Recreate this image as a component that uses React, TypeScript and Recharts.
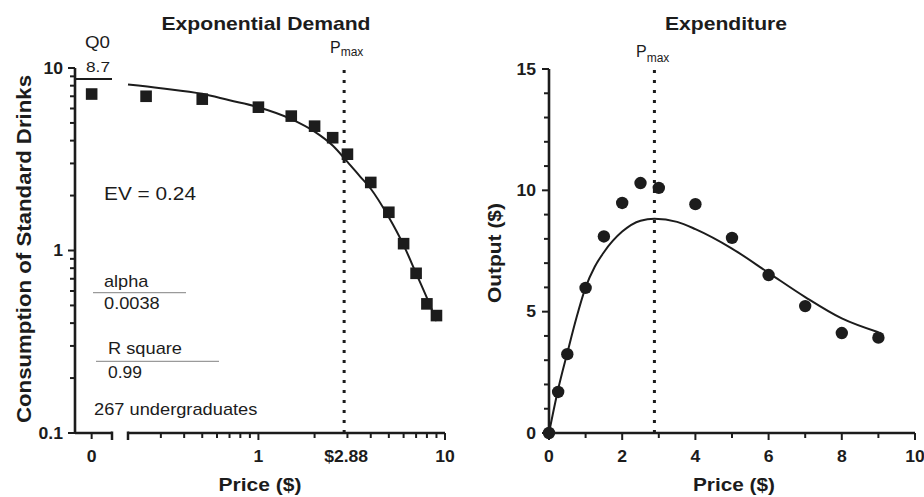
import React from "react";
import { ComposedChart, Line, Scatter, XAxis, YAxis, ReferenceLine } from "recharts";

const INK = "#1c1c1c";
const FONT = "'Liberation Sans', Arial, Helvetica, sans-serif";

// price steps of the purchase task ($) and the mean responses
const PRICES = [0, 0.25, 0.5, 1, 1.5, 2, 2.5, 3, 4, 5, 6, 7, 8, 9];
const CONSUMPTION = [7.2, 7.0, 6.75, 6.1, 5.45, 4.8, 4.15, 3.37, 2.36, 1.62, 1.09, 0.75, 0.51, 0.44];
const EXPENDITURE = [0, 1.69, 3.25, 5.98, 8.1, 9.48, 10.3, 10.1, 9.43, 8.04, 6.51, 5.23, 4.12, 3.93];

// fitted curves
const DEMAND_FIT_P = [0.2, 0.3, 0.5, 0.7, 1, 1.5, 2, 2.5, 3, 3.5, 4, 5, 6, 7, 8, 9];
const DEMAND_FIT_Q = [8.12, 7.75, 7.22, 6.65, 6.1, 5.25, 4.48, 3.76, 3.06, 2.55, 2.18, 1.52, 1.07, 0.75, 0.55, 0.41];
const SPEND_FIT_P = [0, 0.25, 0.5, 0.75, 1, 1.25, 1.5, 2, 2.5, 2.88, 3.5, 4, 5, 6, 7, 8, 9];
const SPEND_FIT_E = [0, 1.8, 3.3, 4.75, 6.0, 6.85, 7.45, 8.3, 8.75, 8.83, 8.7, 8.4, 7.6, 6.6, 5.6, 4.72, 4.15];

const PMAX = 2.88;
const Q0 = 8.7;

const LOG_Y_TICKS = [0.1, 0.2, 0.3, 0.4, 0.5, 0.6, 0.7, 0.8, 0.9, 1, 2, 3, 4, 5, 6, 7, 8, 9, 10];
const LOG_Y_LABELS = [0.1, 1, 10];
const LOG_X_TICKS = [0.2, 0.3, 0.4, 0.5, 0.6, 0.7, 0.8, 0.9, 1, 2, 2.88, 3, 4, 5, 6, 7, 8, 9, 10];
const LOG_X_LABELS: Record<string, string> = { "1": "1", "2.88": "$2.88", "10": "10" };
const ZERO_X_TICKS = [0, 1.1];
const OUT_Y_TICKS = [0, 1, 2, 3, 4, 5, 6, 7, 8, 9, 10, 11, 12, 13, 14, 15];
const OUT_X_TICKS = [0, 1, 2, 3, 4, 5, 6, 7, 8, 9, 10];

const demandPoints = PRICES.map((p, i) => ({ p, q: CONSUMPTION[i] }));
const zeroPoints = demandPoints.filter((d) => d.p === 0);
const logPoints = demandPoints.filter((d) => d.p > 0);
const demandFit = DEMAND_FIT_P.map((p, i) => ({ p, q: DEMAND_FIT_Q[i] }));
const spendPoints = PRICES.map((p, i) => ({ p, e: EXPENDITURE[i] }));
const spendFit = SPEND_FIT_P.map((p, i) => ({ p, e: SPEND_FIT_E[i] }));

const tickText = (x: number, y: number, label: string, anchor: string) => (
  <text
    transform={`translate(${x},${y}) scale(1.1,1)`}
    textAnchor={anchor}
    fontSize={16}
    fontWeight={700}
    fontFamily={FONT}
    fill={INK}
  >
    {label}
  </text>
);

function LogYTick(props: any) {
  const { x, y, payload } = props;
  const major = LOG_Y_LABELS.includes(payload.value);
  return (
    <g>
      <line x1={x - (major ? 7 : 5)} x2={x} y1={y} y2={y} stroke={INK} strokeWidth={2} />
      {major && tickText(x - 12, y + 5.8, String(payload.value), "end")}
    </g>
  );
}

function LogXTick(props: any) {
  const { x, y, payload } = props;
  const v = payload.value;
  const label = LOG_X_LABELS[String(v)];
  if (v === PMAX) return <g>{tickText(x + 2, y + 29, label, "middle")}</g>;
  if (v === 0.2)
    return <line x1={x} x2={x} y1={y - 1.5} y2={y + 7} stroke={INK} strokeWidth={2.5} />;
  return (
    <g>
      <line x1={x} x2={x} y1={y} y2={y + (label ? 7 : 5)} stroke={INK} strokeWidth={2} />
      {label && tickText(x, y + 29, label, "middle")}
    </g>
  );
}

function ZeroXTick(props: any) {
  const { x, y, payload } = props;
  if (payload.value !== 0)
    return <line x1={x} x2={x} y1={y - 1.5} y2={y + 7} stroke={INK} strokeWidth={2.5} />;
  return (
    <g>
      <line x1={x} x2={x} y1={y} y2={y + 6} stroke={INK} strokeWidth={2} />
      {tickText(x, y + 29, "0", "middle")}
    </g>
  );
}

function OutYTick(props: any) {
  const { x, y, payload } = props;
  const major = payload.value % 5 === 0;
  return (
    <g>
      <line x1={x - (major ? 7 : 5)} x2={x} y1={y} y2={y} stroke={INK} strokeWidth={2} />
      {major && tickText(x - 13, y + 5.8, String(payload.value), "end")}
    </g>
  );
}

function OutXTick(props: any) {
  const { x, y, payload } = props;
  const major = payload.value % 2 === 0;
  return (
    <g>
      <line x1={x} x2={x} y1={y} y2={y + (major ? 7 : 5)} stroke={INK} strokeWidth={2} />
      {major && tickText(x, y + 28.5, String(payload.value), "middle")}
    </g>
  );
}

const Square = (props: any) => (
  <rect x={props.cx - 5.8} y={props.cy - 5.8} width={11.6} height={11.6} fill={INK} />
);
const Dot = (props: any) => <circle cx={props.cx} cy={props.cy} r={6.2} fill={INK} />;

const axisLine = { stroke: INK, strokeWidth: 2.6 };

function Txt({ x, y, w, size, bold, anchor = "start", rotate = false, children }: any) {
  return (
    <text
      x={x}
      y={y}
      fontSize={size}
      fontWeight={bold ? 700 : 400}
      fontFamily={FONT}
      textAnchor={anchor}
      textLength={w}
      lengthAdjust="spacingAndGlyphs"
      transform={rotate ? `rotate(-90 ${x} ${y})` : undefined}
      fill={INK}
    >
      {children}
    </text>
  );
}

function Pmax({ x, y, dy }: { x: number; y: number; dy: number }) {
  return (
    <text x={x} y={y} fontSize={16} fontFamily={FONT} fill={INK}>
      P
      <tspan dy={dy} fontSize={12}>
        max
      </tspan>
    </text>
  );
}

export default function App() {
  const pos = (left: number): React.CSSProperties => ({ position: "absolute", left, top: 0 });
  return (
    <div
      style={{
        position: "absolute",
        left: 0,
        top: 0,
        width: 924,
        height: 497,
        background: "#fff",
        fontFamily: FONT,
        overflow: "hidden",
      }}
    >
      {/* zero segment of the broken price axis, carries the log y axis */}
      <div style={pos(0)}>
        <ComposedChart width={120} height={497} margin={{ top: 68, right: 8, bottom: 0, left: 0 }}>
          <XAxis
            type="number"
            dataKey="p"
            domain={[-0.9, 1.1]}
            ticks={ZERO_X_TICKS}
            interval={0}
            height={64}
            tickSize={0}
            tickMargin={0}
            tickLine={false}
            axisLine={axisLine}
            tick={ZeroXTick}
          />
          <YAxis
            type="number"
            scale="log"
            domain={[0.1, 10]}
            ticks={LOG_Y_TICKS}
            interval={0}
            width={75}
            tickSize={0}
            tickMargin={0}
            tickLine={false}
            axisLine={axisLine}
            tick={LogYTick}
          />
          <ReferenceLine y={Q0} stroke={INK} strokeWidth={2} />
          <Scatter data={zeroPoints} dataKey="q" shape={Square} isAnimationActive={false} />
        </ComposedChart>
      </div>

      {/* log price segment */}
      <div style={pos(0)}>
        <ComposedChart width={460} height={497} margin={{ top: 68, right: 15, bottom: 0, left: 128 }}>
          <XAxis
            type="number"
            dataKey="p"
            scale="log"
            domain={[0.2, 10]}
            ticks={LOG_X_TICKS}
            interval={0}
            height={64}
            tickSize={0}
            tickMargin={0}
            tickLine={false}
            axisLine={axisLine}
            tick={LogXTick}
          />
          <YAxis type="number" scale="log" domain={[0.1, 10]} hide />
          <ReferenceLine x={PMAX} stroke={INK} strokeWidth={3} strokeDasharray="3 7" />
          <Line
            data={demandFit}
            dataKey="q"
            type="monotone"
            stroke={INK}
            strokeWidth={2}
            dot={false}
            isAnimationActive={false}
          />
          <Scatter data={logPoints} dataKey="q" shape={Square} isAnimationActive={false} />
        </ComposedChart>
      </div>

      {/* expenditure panel */}
      <div style={pos(460)}>
        <ComposedChart width={464} height={497} margin={{ top: 69, right: 9, bottom: 0, left: 0 }}>
          <XAxis
            type="number"
            dataKey="p"
            domain={[0, 10]}
            ticks={OUT_X_TICKS}
            interval={0}
            height={64}
            tickSize={0}
            tickMargin={0}
            tickLine={false}
            axisLine={axisLine}
            tick={OutXTick}
          />
          <YAxis
            type="number"
            domain={[0, 15]}
            ticks={OUT_Y_TICKS}
            interval={0}
            width={89}
            tickSize={0}
            tickMargin={0}
            tickLine={false}
            axisLine={axisLine}
            tick={OutYTick}
          />
          <ReferenceLine x={PMAX} stroke={INK} strokeWidth={3} strokeDasharray="3 7" />
          <Line
            data={spendFit}
            dataKey="e"
            type="monotone"
            stroke={INK}
            strokeWidth={2}
            dot={false}
            isAnimationActive={false}
          />
          <Scatter data={spendPoints} dataKey="e" shape={Dot} isAnimationActive={false} />
        </ComposedChart>
      </div>

      {/* titles, axis labels and fit annotations */}
      <svg width={924} height={497} style={{ position: "absolute", left: 0, top: 0, pointerEvents: "none" }}>
        <Txt x={266} y={30} w={209} size={19} bold anchor="middle">Exponential Demand</Txt>
        <Txt x={726} y={30} w={122} size={19} bold anchor="middle">Expenditure</Txt>
        <Txt x={260} y={491} w={83} size={19} bold anchor="middle">Price ($)</Txt>
        <Txt x={734} y={491} w={82} size={19} bold anchor="middle">Price ($)</Txt>
        <Txt x={31} y={249} w={348} size={20} bold anchor="middle" rotate>
          Consumption of Standard Drinks
        </Txt>
        <Txt x={501} y={253} w={100} size={19} bold anchor="middle" rotate>
          Output ($)
        </Txt>

        <Txt x={85} y={48} w={25} size={16}>Q0</Txt>
        <Txt x={86} y={71.5} w={24} size={15.5}>8.7</Txt>
        <Txt x={104} y={200} w={92} size={17.5}>EV = 0.24</Txt>
        <Txt x={104} y={287} w={44.4} size={17}>alpha</Txt>
        <line x1={93} x2={186} y1={292.7} y2={292.7} stroke="#9a9a9a" strokeWidth={1.2} />
        <Txt x={104} y={309} w={55.7} size={17}>0.0038</Txt>
        <Txt x={108} y={354.3} w={74} size={17}>R square</Txt>
        <line x1={96} x2={219} y1={361.3} y2={361.3} stroke="#9a9a9a" strokeWidth={1.2} />
        <Txt x={108} y={377.7} w={34} size={17}>0.99</Txt>
        <Txt x={94} y={415} w={163.4} size={17}>267 undergraduates</Txt>

        <Pmax x={330} y={52.7} dy={3.5} />
        <Pmax x={636} y={57.3} dy={5} />
      </svg>
    </div>
  );
}
